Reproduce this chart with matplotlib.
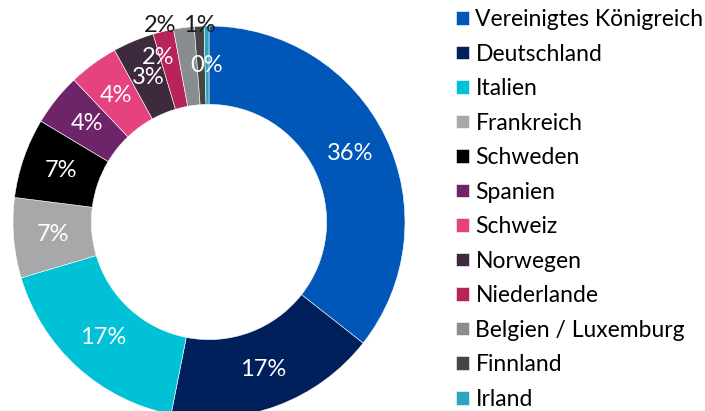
import numpy as np
import matplotlib
matplotlib.use("Agg")
import matplotlib.pyplot as plt

countries = ["Vereinigtes Königreich", "Deutschland", "Italien", "Frankreich",
             "Schweden", "Spanien", "Schweiz", "Norwegen", "Niederlande",
             "Belgien / Luxemburg", "Finnland", "Irland"]
shares = [35.6, 17.5, 17.3, 6.6, 6.6, 4.3, 4.1, 3.4, 1.7, 1.7, 0.8, 0.4]
pct_labels = ["36%", "17%", "17%", "7%", "7%", "4%", "4%", "3%", "2%", "2%", "1%", "0%"]
colors = ["#0057B8", "#00205B", "#00C1D5", "#A7A8AA", "#000000", "#6E2469",
          "#E5427F", "#3E2A3D", "#B8245A", "#8A8D8F", "#454545", "#2FA4BF"]

plt.rcParams["font.family"] = ["Lato", "DejaVu Sans"]

fig = plt.figure(figsize=(7.05, 4.11), dpi=100)
ax = fig.add_axes([13 / 705, -7 / 411, 392 / 705, 392 / 411])

wedges, _ = ax.pie(shares, colors=colors, startangle=90, counterclock=False,
                   radius=1.0, wedgeprops=dict(width=0.4, edgecolor="white", linewidth=0.4))
ax.set_xlim(-1, 1)
ax.set_ylim(-1, 1)
ax.axis("off")

# percentage labels; the two small grey slices get theirs outside in black
outside = {9: (-0.12, 1.0), 10: (0.0, 1.0)}
for i, w in enumerate(wedges):
    mid = np.deg2rad((w.theta1 + w.theta2) / 2)
    if i in outside:
        dx, y = outside[i]
        x = np.cos(mid) + dx
        ax.text(x, y, pct_labels[i], ha="center", va="center", fontsize=17,
                color="#1a1a1a", clip_on=False)
        continue
    r = 0.8
    if i == 8:
        mid += np.deg2rad(3.5)
        r = 0.88
    ax.text(r * np.cos(mid), r * np.sin(mid), pct_labels[i], ha="center", va="center",
            fontsize=17, color="white")

fig.legend(wedges, countries, loc="upper left", bbox_to_anchor=(456 / 705, 1 - 9 / 411),
           frameon=False, fontsize=16.5, handlelength=0.55, handleheight=0.55,
           handletextpad=0.3, labelspacing=0.59, borderaxespad=0, borderpad=0)

fig.savefig("out.png", dpi=100)
